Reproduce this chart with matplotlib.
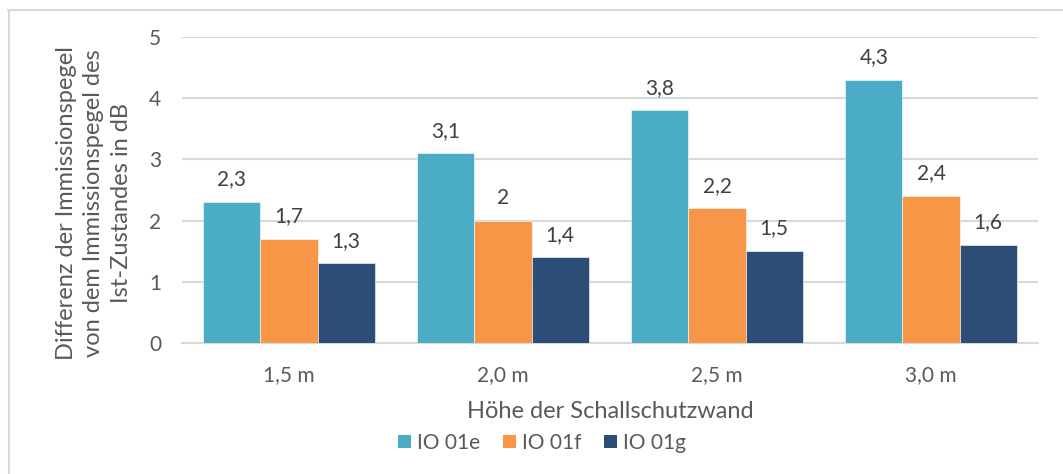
import numpy as np
import matplotlib
matplotlib.use("Agg")
import matplotlib.pyplot as plt
from matplotlib.lines import Line2D
from matplotlib.patches import Patch

# ── data ──────────────────────────────────────────────────────────────────────
HEIGHTS = ["1,5 m", "2,0 m", "2,5 m", "3,0 m"]
SERIES  = ["IO 01e", "IO 01f", "IO 01g"]
IO_01E  = [2.3, 3.1, 3.8, 4.3]
IO_01F  = [1.7, 2.0, 2.2, 2.4]
IO_01G  = [1.3, 1.4, 1.5, 1.6]

COLORS     = ["#4BACC6", "#F79646", "#2C4D75"]
TEXT_COLOR = "#595959"
GRID_COLOR = "#D9D9D9"

plt.rcParams["font.family"] = ["Lato", "DejaVu Sans"]


def fmt(v):
    # German decimal comma, drop trailing ",0"
    s = f"{v:.1f}".rstrip("0").rstrip(".")
    return s.replace(".", ",")


def main():
    W, H = 1063, 474
    fig = plt.figure(figsize=(W / 100, H / 100), dpi=100)
    ax = fig.add_axes([182 / W, 1 - 343 / H, (1038 - 182) / W, (343 - 37) / H])

    x = np.arange(len(HEIGHTS))
    bw = 0.8 / 3
    for i, (vals, name) in enumerate(zip([IO_01E, IO_01F, IO_01G], SERIES)):
        xs = x + (i - 1) * bw
        bars = ax.bar(xs, vals, width=bw, color=COLORS[i], edgecolor="white",
                      linewidth=0.4, zorder=3, label=name)
        for b, v in zip(bars, vals):
            ax.annotate(fmt(v), (b.get_x() + b.get_width() / 2, v),
                        xytext=(0, 12), textcoords="offset points",
                        ha="center", va="baseline", fontsize=15,
                        color="#404040")

    ax.set_xlim(-0.5, len(HEIGHTS) - 0.5)
    ax.set_ylim(0, 5)
    ax.set_yticks(range(0, 6))
    ax.set_xticks(x)
    ax.set_xticklabels(HEIGHTS)
    ax.grid(axis="y", color=GRID_COLOR, linewidth=1.5, zorder=0)
    ax.tick_params(axis="both", length=0, labelsize=15, labelcolor=TEXT_COLOR)
    ax.tick_params(axis="y", pad=15)
    ax.tick_params(axis="x", pad=16)
    for side in ["top", "right", "left"]:
        ax.spines[side].set_visible(False)
    ax.spines["bottom"].set_color(GRID_COLOR)
    ax.spines["bottom"].set_linewidth(1.5)

    fig.text(610 / W, 1 - 412 / H, "Höhe der Schallschutzwand",
             ha="center", va="center", fontsize=17, color=TEXT_COLOR)
    fig.text(94 / W, 1 - 203 / H,
             "Differenz der Immissionspegel\nvon dem Immissionspegel des\nIst-Zustandes in dB",
             ha="center", va="center", rotation=90, multialignment="center",
             fontsize=17, color=TEXT_COLOR, linespacing=1.4)

    handles = [Patch(facecolor=c, edgecolor="none") for c in COLORS]
    fig.legend(handles, SERIES, loc="center", bbox_to_anchor=(542 / W, 1 - 443 / H),
               ncol=3, frameon=False, fontsize=15, handlelength=0.6,
               handleheight=0.6, handletextpad=0.3, columnspacing=1.1,
               labelcolor=TEXT_COLOR, borderpad=0)

    # chart frame (left and top edge)
    fig.add_artist(Line2D([9 / W, 9 / W], [0, 1 - 10 / H], transform=fig.transFigure,
                          color=GRID_COLOR, linewidth=1.5))
    fig.add_artist(Line2D([8 / W, 1], [1 - 10 / H, 1 - 10 / H], transform=fig.transFigure,
                          color=GRID_COLOR, linewidth=1.5))

    fig.savefig("out.png", dpi=100)


if __name__ == "__main__":
    main()
